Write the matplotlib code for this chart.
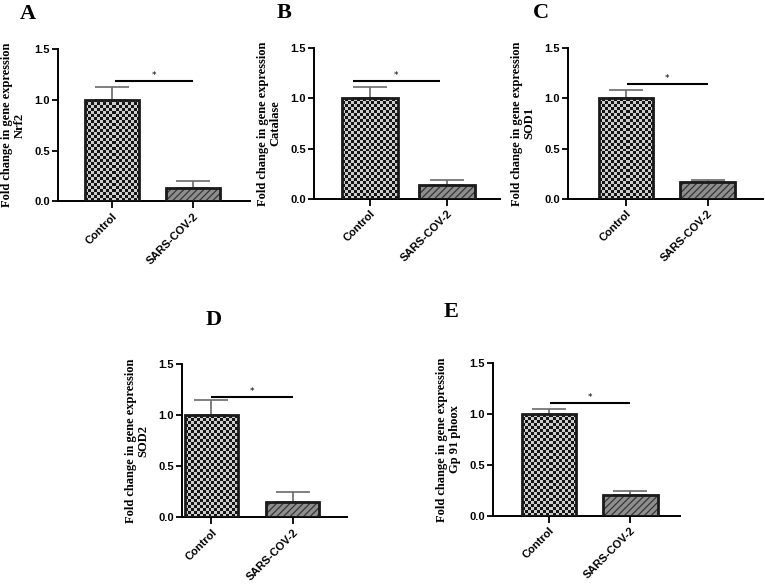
import matplotlib.pyplot as plt
import numpy as np

plt.rcParams['hatch.linewidth'] = 0.9

# data
letters = ['A', 'B', 'C', 'D', 'E']
genes = ['Nrf2', 'Catalase', 'SOD1', 'SOD2', 'Gp 91 phoox']
groups = ['Control', 'SARS-COV-2']
control_mean = [1.0, 1.0, 1.0, 1.0, 1.0]
control_err = [0.13, 0.11, 0.08, 0.15, 0.05]
sars_mean = [0.13, 0.14, 0.17, 0.15, 0.21]
sars_err = [0.07, 0.05, 0.02, 0.10, 0.03]
sig_y = [1.19, 1.17, 1.14, 1.18, 1.11]
sig_x0 = [0.04, -0.22, 0.01, -0.01, 0.01]
sig_x1 = [1.0, 0.9, 1.0, 1.0, 1.0]

# layout of each panel (figure fractions) and x limits / bar widths
boxes = [
    [0.0758, 0.656, 0.251, 0.260],
    [0.4105, 0.660, 0.243, 0.258],
    [0.7425, 0.660, 0.255, 0.258],
    [0.2380, 0.116, 0.216, 0.2615],
    [0.6444, 0.118, 0.2444, 0.2615],
]
xlims = [(-0.667, 1.70), (-0.72, 1.68), (-0.71, 1.68), (-0.36, 1.67), (-0.69, 1.61)]
widths = [0.667, 0.72, 0.67, 0.65, 0.67]
letter_pos = [(28, 14), (284, 13), (541, 13), (214, 320), (451, 312)]

W, H, DPI = 7.65, 5.85, 100
fig = plt.figure(figsize=(W, H), dpi=DPI)


def checker(ax, bar, x0, x1, y0, y1):
    # checkerboard fill clipped to the bar, ~3 px cells
    bb = ax.transData.transform([[x0, y0], [x1, y1]])
    nx = max(1, int(round(abs(bb[1, 0] - bb[0, 0]) / 3.0)))
    ny = max(1, int(round(abs(bb[1, 1] - bb[0, 1]) / 3.0)))
    ii, jj = np.indices((ny, nx))
    img = ((ii + jj) % 2).astype(float)
    im = ax.imshow(img, cmap=plt.matplotlib.colors.ListedColormap(['#151515', '#cdcdcd']),
                   extent=[x0, x1, y0, y1], origin='lower', aspect='auto',
                   interpolation='nearest', zorder=2)
    im.set_clip_path(bar)


for i in range(5):
    ax = fig.add_axes(boxes[i])
    ax.set_xlim(*xlims[i])
    ax.set_ylim(0, 1.5)
    w = widths[i]
    x = [0, 1]

    # control bar (checkerboard)
    b = ax.bar(x[0], control_mean[i], width=w, facecolor='none',
               edgecolor='#1a1a1a', linewidth=2, zorder=3)[0]
    checker(ax, b, -w / 2, w / 2, 0, control_mean[i])

    # SARS bar (hatched)
    ax.bar(x[1], sars_mean[i], width=w, facecolor='#8e8e8e', edgecolor='#353535',
           linewidth=0, hatch='/////', zorder=2)
    ax.bar(x[1], sars_mean[i], width=w, facecolor='none', edgecolor='#1a1a1a',
           linewidth=2, zorder=3)

    ax.errorbar(x, [control_mean[i], sars_mean[i]],
                yerr=[[0, 0], [control_err[i], sars_err[i]]],
                fmt='none', ecolor='#6a6a6a', elinewidth=1.2, capsize=12,
                capthick=1.2, zorder=1)

    # significance bar
    ax.plot([sig_x0[i], sig_x1[i]], [sig_y[i], sig_y[i]], color='black', lw=1.5,
            solid_capstyle='butt', zorder=4)
    ax.text((sig_x0[i] + sig_x1[i]) / 2, sig_y[i] + 0.01, '*', ha='center',
            va='bottom', fontsize=6.5)

    ax.set_xlim(*xlims[i])
    ax.set_ylim(0, 1.5)
    ax.set_yticks([0, 0.5, 1.0, 1.5])
    ax.set_yticklabels(['0.0', '0.5', '1.0', '1.5'], fontsize=8, fontweight='bold',
                       family='Liberation Sans')
    ax.set_xticks(x)
    ax.set_xticklabels(groups, rotation=45, ha='right', rotation_mode='anchor',
                       fontsize=8, fontweight='bold', family='Liberation Sans')
    ax.tick_params(axis='both', direction='out', length=4, width=1.3, color='black', pad=2)
    ax.tick_params(axis='x', length=5)
    for s in ['top', 'right']:
        ax.spines[s].set_visible(False)
    for s in ['left', 'bottom']:
        ax.spines[s].set_linewidth(1.4)
    ax.set_ylabel('Fold change in gene expression\n' + genes[i], family='Liberation Serif',
                  fontweight='bold', fontsize=9, labelpad=6, linespacing=1.1)

    lx, ly = letter_pos[i]
    fig.text(lx / (W * DPI), 1 - ly / (H * DPI), letters[i], ha='center', va='center',
             family='Liberation Serif', fontweight='bold', fontsize=16)

fig.savefig('out.png', dpi=DPI)
